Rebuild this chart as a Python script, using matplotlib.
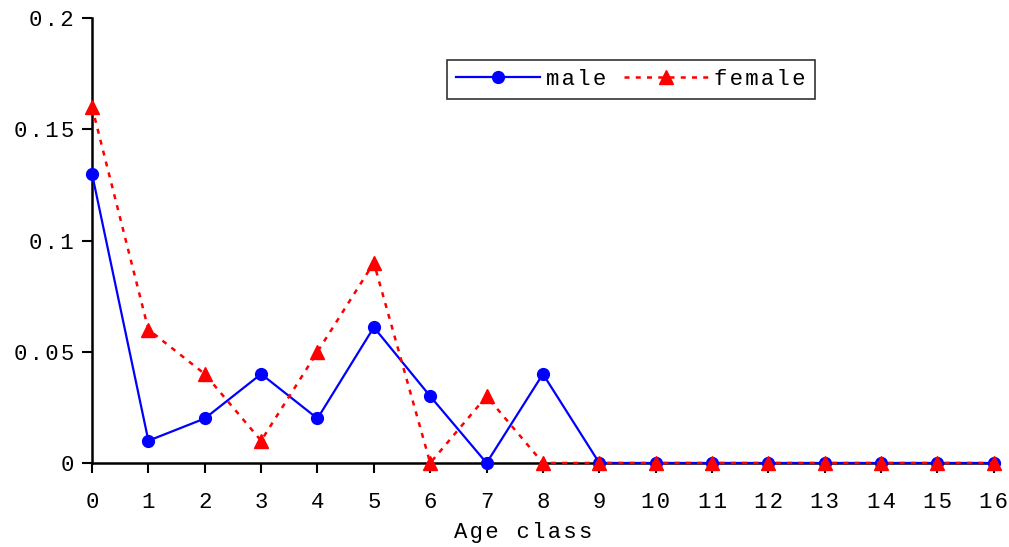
import numpy as np
import matplotlib
matplotlib.use("Agg")
import matplotlib.pyplot as plt

plt.rcParams['font.family'] = ['Liberation Mono', 'DejaVu Sans']

age = np.arange(17)
male = [0.13, 0.01, 0.02, 0.04, 0.02, 0.061, 0.03, 0.0, 0.04,
        0, 0, 0, 0, 0, 0, 0, 0]
female = [0.16, 0.06, 0.04, 0.01, 0.05, 0.09, 0.0, 0.03, 0.0,
          0, 0, 0, 0, 0, 0, 0, 0]
yticks = [0, 0.05, 0.1, 0.15, 0.2]
ylabels = ['0', '0.05', '0.1', '0.15', '0.2']


def spaced(s):
    # the original text is letter-spaced, so put a hair space between glyphs
    return '\u200a'.join(s)


fig = plt.figure(figsize=(10.09, 5.47), dpi=100)
ax = fig.add_axes([0.0912, 0.1536, 0.8938, 0.8134])

ax.plot(age, male, color='blue', lw=1.6, marker='o', ms=8.5,
        label=spaced('male'), clip_on=False, zorder=3)
ax.plot(age, female, color='red', lw=1.8, ls=(0, (2, 2.5)), marker='^', ms=9.5,
        label=spaced('female'), clip_on=False, zorder=4)

ax.set_xlim(0, 16)
ax.set_ylim(0, 0.2)
ax.set_xticks(age)
ax.set_xticklabels([spaced(str(a)) for a in age])
ax.set_yticks(yticks)
ax.set_yticklabels([spaced(l) for l in ylabels])
ax.tick_params(direction='out', length=7, width=1.5, labelsize=16, pad=14)
ax.tick_params(axis='y', pad=6)
for s in ['top', 'right']:
    ax.spines[s].set_visible(False)
for s in ['left', 'bottom']:
    ax.spines[s].set_linewidth(1.8)

ax.set_xlabel(spaced('Age class'), fontsize=16)
ax.xaxis.set_label_coords(0.478, -0.132)

leg = ax.legend(ncol=2, loc='upper left', bbox_to_anchor=(0.394, 0.906),
                fontsize=16, frameon=True, fancybox=False, handlelength=3.75,
                borderpad=0.4, columnspacing=0.8, handletextpad=0.3,
                borderaxespad=0)
leg.get_frame().set_edgecolor('black')
leg.get_frame().set_linewidth(1.2)

fig.savefig('out.png', dpi=100)
